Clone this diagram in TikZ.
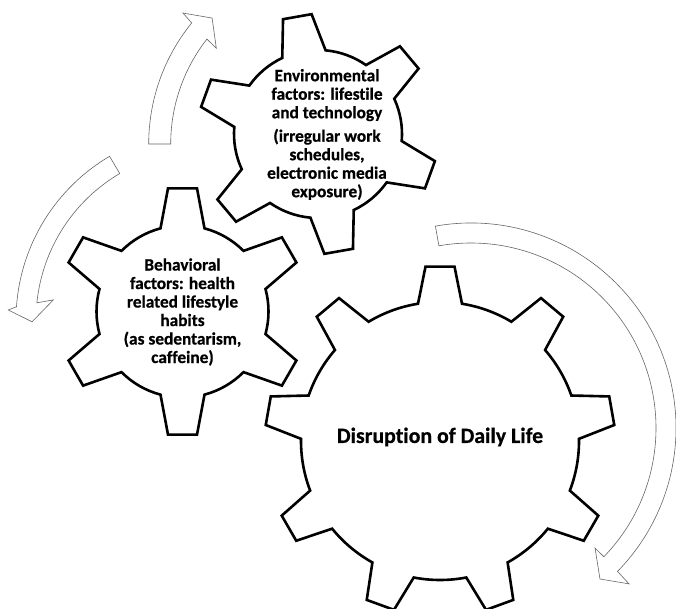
\documentclass[tikz,border=0pt]{standalone}
\usepackage{fontspec}
\newfontfamily\carlito[Ligatures=NoCommon, BoldFeatures={FakeBold=0.6}]{Carlito}

\tikzset{
  gearline/.style={draw=black, line width=2.6pt, fill=white, line join=miter},
  turnarrow/.style={draw=black!60, line width=0.6pt, fill=white, line join=miter},
  geartext/.style={font=\carlito\bfseries\fontsize{17.3}{18.5}\selectfont, align=center, inner sep=0pt}
}

% gear outline: centre x, centre y, teeth, angle of first tooth, body radius, tip radius
\newcommand{\gearwheel}[6]{
  \pgfmathsetmacro{\gearbase}{asin(22/#5)}
  \pgfmathsetmacro{\geartip}{asin(14.5/#6)}
  \pgfmathsetmacro{\gearstep}{360/#3}
  \begin{scope}[shift={(#1,#2)}]
  \draw[gearline] ({#4-\gearbase}:#5pt)
    \foreach \k [evaluate=\k as \t using {#4+(\k-1)*\gearstep}] in {1,...,#3} {
      -- ({\t-\geartip}:#6pt) -- ({\t+\geartip}:#6pt) -- ({\t+\gearbase}:#5pt)
      arc[start angle={\t+\gearbase}, end angle={\t+\gearstep-\gearbase}, radius=#5pt]
    } -- cycle;
  \end{scope}
}

\begin{document}
\begin{tikzpicture}[x=1pt,y=1pt]
	\useasboundingbox (0,0) rectangle (676,608);

	% arrows round the gears
	\begin{scope}[shift={(340.7,464)}]
	\draw[turnarrow] (180:192pt) arc[start angle=180, end angle=140.9, radius=192pt]
		-- (140.3:205pt) -- (135.6:180pt) -- (142.4:157pt) -- (141.9:170pt)
		arc[start angle=141.9, end angle=180, radius=170pt] -- cycle;
	\end{scope}
	\begin{scope}[shift={(206,288)}]
	\draw[turnarrow] (120.5:190pt) arc[start angle=120.5, end angle=176, radius=190pt]
		-- (177.1:198pt) -- (180.6:174pt) -- (172.5:154pt) -- (174.2:170pt)
		arc[start angle=174.2, end angle=120.5, radius=170pt] -- cycle;
	\end{scope}
	\begin{scope}[shift={(471,180)}]
	\draw[turnarrow] (100:205pt) arc[start angle=100, end angle=-44.4, radius=205pt]
		-- (-44.6:222pt) -- (-49.5:198.6pt) -- (-44.06:172.6pt) -- (-44.1:185pt)
		arc[start angle=-44.1, end angle=100, radius=185pt] -- cycle;
	\end{scope}

	% gears
	\gearwheel{182.5}{296.5}{6}{90}{86}{124}
	\gearwheel{318}{474}{6}{40}{84}{120}
	\gearwheel{440}{167}{9}{90}{139}{175}

	\node[geartext] (behav) at (182.5,296) {Behavioral\\factors: health\\related lifestyle\\habits\\(as sedentarism,\\caffeine)};
	\node[geartext] (envir) at (327,473.5) {Environmental\\factors: lifestile\\and technology\\[5pt](irregular work\\schedules,\\electronic media\\exposure)};
	\node[font=\carlito\bfseries\fontsize{21.8}{24}\selectfont, inner sep=0pt] (daily) at (440,171) {Disruption of Daily Life};
\end{tikzpicture}
\end{document}
